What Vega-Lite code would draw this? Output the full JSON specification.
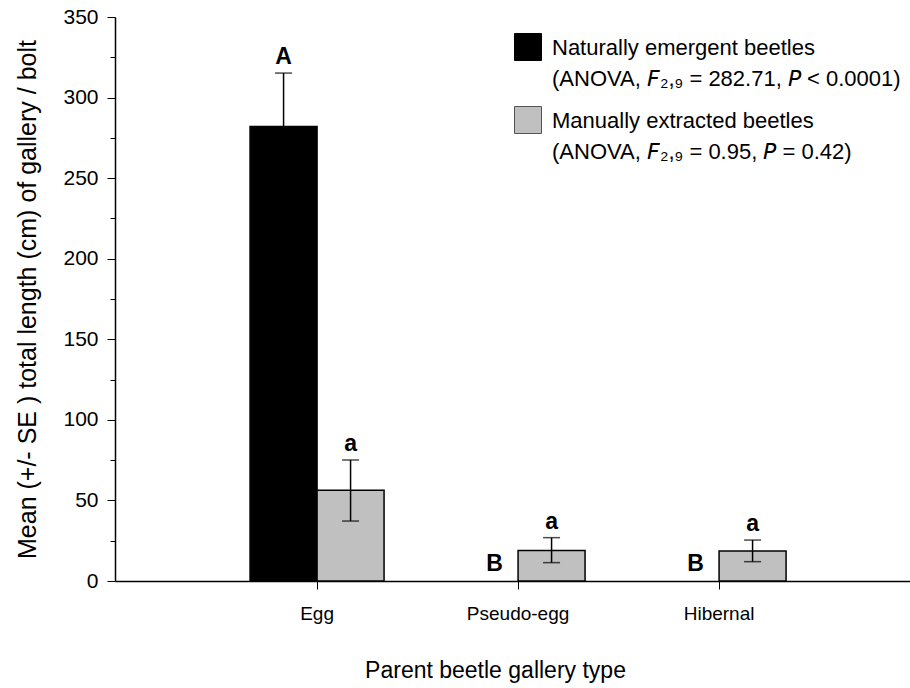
{
  "$schema": "https://vega.github.io/schema/vega-lite/v6.json",
  "autosize": {"type": "none"},
  "padding": {"left": 115, "top": 17, "right": 0, "bottom": 107},
  "width": 795,
  "height": 564,
  "background": "white",
  "config": {
    "view": {"stroke": null},
    "font": "Liberation Sans",
    "axis": {
      "domainColor": "black",
      "domainWidth": 1.5,
      "tickColor": "black",
      "tickWidth": 1,
      "labelColor": "black",
      "titleColor": "black",
      "labelFont": "Liberation Sans",
      "titleFont": "Liberation Sans",
      "titleFontWeight": "normal",
      "grid": false
    }
  },
  "data": {
    "values": [
      {"type": "Egg", "group": "Naturally emergent beetles", "mean": 282.1, "lower": 249.0, "upper": 315.2, "letter": "A"},
      {"type": "Egg", "group": "Manually extracted beetles", "mean": 56.3, "lower": 37.2, "upper": 75.1, "letter": "a"},
      {"type": "Pseudo-egg", "group": "Naturally emergent beetles", "mean": 0, "lower": 0, "upper": 0, "letter": "B"},
      {"type": "Pseudo-egg", "group": "Manually extracted beetles", "mean": 19.0, "lower": 11.4, "upper": 26.9, "letter": "a"},
      {"type": "Hibernal", "group": "Naturally emergent beetles", "mean": 0, "lower": 0, "upper": 0, "letter": "B"},
      {"type": "Hibernal", "group": "Manually extracted beetles", "mean": 18.6, "lower": 12.0, "upper": 25.4, "letter": "a"}
    ]
  },
  "encoding": {
    "x": {
      "field": "type",
      "type": "nominal",
      "scale": {"domain": ["Egg", "Pseudo-egg", "Hibernal"], "paddingInner": 0, "paddingOuter": 0.4776, "align": 0.529},
      "axis": {
        "title": "Parent beetle gallery type",
        "labelAngle": 0,
        "labelFontSize": 19,
        "labelPadding": 15,
        "tickSize": 8,
        "titleFontSize": 23,
        "titleX": 380,
        "titleY": 96,
        "titleAlign": "center",
        "titleBaseline": "alphabetic"
      }
    },
    "xOffset": {
      "field": "group",
      "type": "nominal",
      "scale": {"domain": ["Naturally emergent beetles", "Manually extracted beetles"], "paddingInner": 0, "paddingOuter": 0.5}
    }
  },
  "layer": [
    {
      "transform": [{"filter": "datum.mean > 0"}],
      "mark": {"type": "bar", "stroke": "black", "strokeWidth": 1.5},
      "encoding": {
        "y": {
          "field": "mean",
          "type": "quantitative",
          "scale": {"domain": [0, 350], "nice": false},
          "axis": {
            "title": "Mean (+/- SE ) total length (cm) of gallery / bolt",
            "values": [0, 25, 50, 75, 100, 125, 150, 175, 200, 225, 250, 275, 300, 325, 350],
            "labelExpr": "datum.value % 50 === 0 ? datum.label : ''",
            "tickSize": {"condition": {"test": "datum.value % 50 === 0", "value": 8}, "value": 5},
            "labelFontSize": 21,
            "labelPadding": 9,
            "titleFontSize": 25,
            "titleAngle": -90,
            "titleX": -80,
            "titleY": 282,
            "titleAlign": "center",
            "titleBaseline": "alphabetic"
          }
        },
        "color": {
          "field": "group",
          "type": "nominal",
          "scale": {"domain": ["Naturally emergent beetles", "Manually extracted beetles"], "range": ["#000000", "#c0c0c0"]},
          "legend": {
            "orient": "none",
            "legendX": 399,
            "legendY": 16,
            "title": null,
            "symbolType": "square",
            "symbolSize": 729,
            "symbolStrokeColor": "black",
            "symbolStrokeWidth": 1,
            "labelFont": "Liberation Sans",
            "labelFontSize": 22,
            "labelColor": "black",
            "labelLimit": 0,
            "labelOffset": 10,
            "labelBaseline": "alphabetic",
            "rowPadding": 14,
            "labelExpr": "datum.label === 'Naturally emergent beetles' ? ['Naturally emergent beetles', '(ANOVA, \uD835\uDE0D\u2082,\u2089 = 282.71, \uD835\uDE17 < 0.0001)'] : ['Manually extracted beetles', '(ANOVA, \uD835\uDE0D\u2082,\u2089 = 0.95, \uD835\uDE17 = 0.42)']",
            "encode": {
              "labels": {"update": {"lineHeight": {"value": 31}, "dy": {"value": 8}}},
              "symbols": {"update": {
                "fill": {"signal": "datum.value === 'Manually extracted beetles' ? '#dcdcdc' : '#000000'"},
                "stroke": {"signal": "datum.value === 'Manually extracted beetles' ? '#555555' : '#000000'"}
              }}
            }
          }
        }
      }
    },
    {
      "transform": [{"filter": "datum.upper > 0"}],
      "mark": {"type": "rule", "color": "black", "strokeWidth": 1.5},
      "encoding": {
        "y": {"field": "lower", "type": "quantitative"},
        "y2": {"field": "upper"}
      }
    },
    {
      "transform": [{"filter": "datum.upper > 0"}],
      "mark": {"type": "tick", "orient": "horizontal", "size": 17, "thickness": 1.5, "color": "black"},
      "encoding": {"y": {"field": "upper", "type": "quantitative"}}
    },
    {
      "transform": [{"filter": "datum.upper > 0"}],
      "mark": {"type": "tick", "orient": "horizontal", "size": 17, "thickness": 1.5, "color": "black"},
      "encoding": {"y": {"field": "lower", "type": "quantitative"}}
    },
    {
      "transform": [{"filter": "datum.upper > 0"}],
      "mark": {"type": "text", "font": "Liberation Sans", "fontWeight": "bold", "fontSize": 23, "baseline": "alphabetic", "dy": -9, "color": "black"},
      "encoding": {
        "y": {"field": "upper", "type": "quantitative"},
        "text": {"field": "letter"}
      }
    },
    {
      "transform": [{"filter": "datum.upper === 0"}],
      "mark": {"type": "text", "font": "Liberation Sans", "fontWeight": "bold", "fontSize": 23, "baseline": "alphabetic", "dy": -10, "dx": 10, "color": "black"},
      "encoding": {
        "y": {"field": "mean", "type": "quantitative"},
        "text": {"field": "letter"}
      }
    }
  ]
}
